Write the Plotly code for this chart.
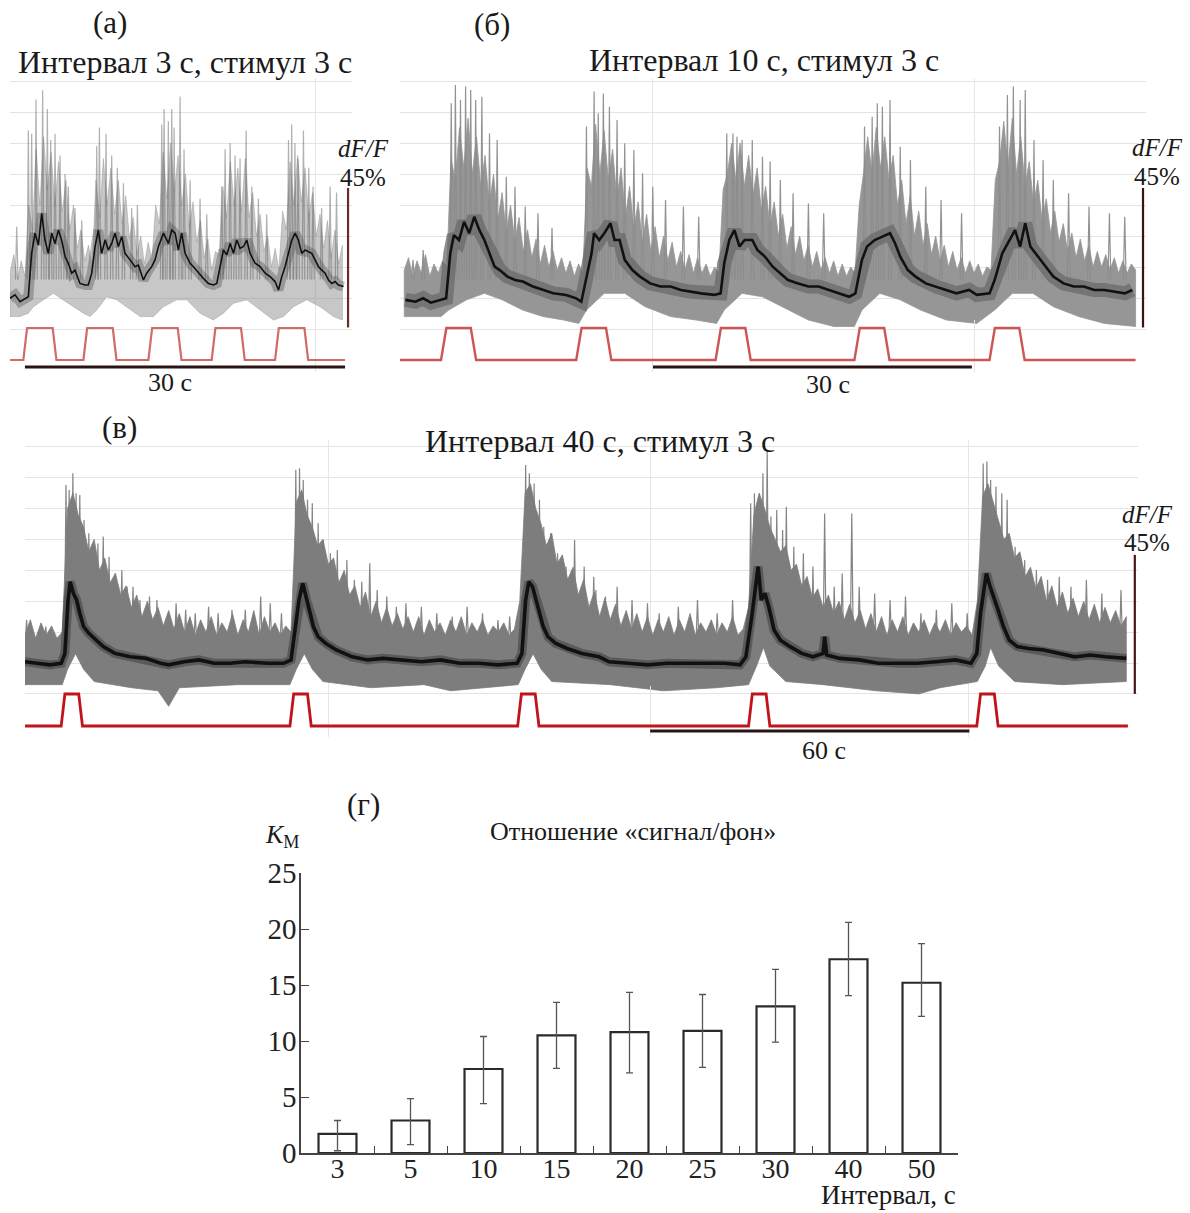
import plotly.graph_objects as go

W, H = 1190, 1213
FONT = "Liberation Serif, Times New Roman, Tinos, DejaVu Serif, serif"

# ================= DATA =================
# ---- panel (а): interval 3 s, stimulus 3 s  (time in s, dF/F in %)
a_mean = [(0, -0.1), (0.47, 1.0), (0.94, -1.2), (1.41, -0.1), (1.72, 0.4), (2.03, 14.4), (2.34, 20.9),
          (2.66, 17.1), (2.97, 27.3), (3.28, 18.7), (3.59, 14.4), (3.91, 20.9), (4.22, 17.6), (4.53, 21.9),
          (4.84, 18.7), (5.16, 13.3), (5.47, 11.2), (5.78, 8.0), (6.09, 9.0), (6.56, 4.7), (7.03, 4.2),
          (7.34, 4.2), (7.66, 8.0), (7.97, 16.6), (8.28, 21.9), (8.59, 14.4), (8.91, 18.7), (9.22, 15.5),
          (9.53, 17.6), (9.84, 20.9), (10.16, 16.6), (10.47, 19.8), (10.78, 14.4), (11.25, 12.3),
          (11.72, 10.1), (12.03, 10.6), (12.5, 5.8), (12.81, 8.0), (13.28, 10.1), (13.59, 12.3),
          (13.91, 16.6), (14.38, 20.9), (14.84, 17.6), (15.16, 21.9), (15.47, 20.9), (15.78, 15.5),
          (16.09, 20.9), (16.41, 14.4), (16.88, 11.2), (17.19, 10.1), (17.66, 8.0), (18.13, 6.3),
          (18.59, 4.7), (19.06, 4.2), (19.38, 4.7), (19.69, 10.1), (20.0, 15.5), (20.31, 13.9),
          (20.63, 17.6), (20.94, 14.4), (21.25, 18.7), (21.56, 16.0), (21.88, 16.6), (22.19, 18.7),
          (22.5, 14.4), (22.97, 11.2), (23.44, 10.1), (23.91, 8.0), (24.38, 6.9), (24.84, 5.3),
          (25.16, 2.6), (25.47, 6.9), (25.78, 10.1), (26.09, 14.4), (26.41, 18.7), (26.72, 20.9),
          (27.03, 18.7), (27.34, 14.4), (27.66, 15.5), (27.97, 14.9), (28.28, 14.4), (28.59, 12.3),
          (28.91, 10.1), (29.22, 9.0), (29.53, 8.0), (29.84, 5.8), (30.16, 4.7), (30.47, 5.3),
          (30.78, 4.2), (31.25, 3.7)]
# upper edge of the gray bundle, sampled every a_hair_dt seconds from a_hair_t0
a_hair_t0, a_hair_dt = 0.0, 0.35
a_hair = [8, 14, 6, 12, 7, 30, 22, 48, 30, 52, 35, 47, 30, 44, 28, 38, 22, 30, 16, 22, 12, 17, 10, 38, 26, 45,
          30, 42, 27, 38, 24, 33, 19, 26, 14, 20, 11, 18, 12, 30, 24, 47, 32, 50, 34, 46, 30, 40, 23, 31, 18,
          25, 13, 19, 9, 15, 14, 36, 26, 44, 30, 42, 28, 45, 26, 34, 20, 27, 15, 20, 10, 16, 9, 28, 22, 44, 30,
          46, 31, 42, 26, 34, 20, 27, 16, 25, 13, 22, 11, 17]
a_lower = [(0, -6.0), (0.94, -6.0), (1.72, -4.9), (2.19, -2.8), (3.13, -0.6), (4.06, 1.5), (5.0, -0.6),
           (5.94, -2.8), (6.88, -4.9), (7.5, -6.0), (8.13, -3.9), (9.06, 0.4), (10.0, -0.6), (10.94, -2.8),
           (12.19, -6.0), (13.44, -6.0), (14.38, -2.8), (15.63, -0.6), (16.56, -0.6), (17.81, -4.9),
           (19.06, -7.1), (20.0, -4.9), (20.94, -1.7), (22.19, -0.6), (23.44, -3.9), (24.69, -7.1),
           (25.63, -6.0), (26.56, -2.8), (27.81, -0.6), (29.06, -2.8), (30.31, -6.0), (31.15, -7.1)]
a_spikes = [(0.63, 23), (1.72, 54), (2.03, 53), (2.44, 64), (3.06, 67), (3.5, 61), (3.81, 51), (4.22, 53),
            (4.69, 46), (5.16, 40), (5.47, 36), (6.09, 29), (6.72, 25), (8.13, 49), (8.38, 55), (9.0, 53),
            (9.53, 46), (10.06, 42), (10.63, 37), (11.4, 29), (11.94, 30), (14.22, 56), (14.44, 61),
            (14.84, 57), (15.16, 61), (15.38, 55), (15.94, 65), (16.31, 48), (16.88, 38), (17.81, 32),
            (18.44, 27), (19.84, 36), (20.16, 48), (20.63, 50), (21.09, 46), (21.56, 45), (22.13, 54),
            (22.66, 36), (23.28, 32), (24.06, 27), (26.1, 51), (26.4, 56), (26.7, 50), (27.0, 45),
            (27.5, 54), (28.0, 42), (28.4, 36), (29.2, 29), (30.0, 36), (30.6, 34)]
a_stim_onsets = [1.25, 6.88, 12.97, 18.9, 24.84]
a_stim_dur = 3.1
a_t_end = 31.4
a_time_bar = (1.4, 30.0)          # start (s), length (s)
a_amp_bar = (31.68, -9.5, 45.0)   # at time (s), start (%), length (%)
a_vgrid = [28.6]

# ---- panel (б): interval 10 s, stimulus 3 s
b_mean = [(0.5, -0.6), (1.46, -1.2), (2.18, -0.1), (2.9, -1.5), (3.86, -0.6), (4.34, -0.1), (4.73, 14.4),
          (5.07, 20.3), (5.55, 18.7), (6.03, 24.6), (6.51, 20.9), (6.99, 26.2), (7.47, 21.9), (7.94, 18.7),
          (8.42, 14.4), (8.9, 10.1), (9.38, 9.0), (10.1, 6.9), (10.82, 5.8), (11.55, 5.3), (12.5, 3.7),
          (13.46, 2.6), (14.42, 1.5), (15.62, 1.0), (16.58, -0.1), (17.06, -1.2), (17.54, 6.9),
          (18.02, 14.4), (18.26, 20.9), (18.74, 18.7), (19.22, 20.9), (19.8, 24.1), (20.18, 18.7),
          (20.66, 18.7), (21.14, 12.3), (21.86, 9.0), (22.58, 6.9), (23.54, 4.7), (24.5, 3.7),
          (25.46, 3.7), (26.42, 2.6), (27.38, 2.0), (28.34, 1.5), (29.54, 1.0), (30.16, 1.5), (30.5, 11.2),
          (30.98, 18.7), (31.46, 21.9), (31.94, 16.6), (32.42, 18.7), (33.14, 18.7), (33.62, 15.5),
          (34.34, 13.3), (35.06, 10.1), (35.78, 8.0), (36.5, 5.8), (37.46, 4.7), (38.42, 3.7),
          (39.38, 3.7), (40.34, 2.6), (41.3, 1.5), (42.26, 0.4), (42.84, 1.5), (43.46, 12.3),
          (43.94, 16.6), (44.66, 18.7), (45.38, 19.8), (46.1, 20.9), (46.58, 17.6), (47.06, 13.3),
          (47.78, 9.0), (48.5, 6.9), (49.46, 4.7), (50.42, 3.7), (51.38, 2.6), (52.34, 1.5), (53.54, 2.6),
          (54.26, 1.0), (55.46, 1.5), (55.94, 5.8), (56.66, 14.4), (57.38, 18.7), (57.86, 21.9),
          (58.34, 16.6), (58.82, 24.1), (59.3, 16.6), (60.02, 13.3), (60.74, 10.1), (61.46, 6.9),
          (62.42, 4.7), (63.38, 3.7), (64.34, 3.7), (65.3, 2.6), (66.26, 2.6), (67.22, 2.0), (68.18, 1.5),
          (68.9, 2.6)]
b_hair_t0, b_hair_dt = 0.4, 0.4
b_hair = [9, 13, 7, 12, 8, 14, 7, 11, 8, 12, 10, 45, 38, 55, 42, 58, 40, 52, 36, 46, 30, 40, 25, 34, 21, 30,
          18, 26, 15, 22, 13, 19, 11, 17, 10, 15, 9, 13, 8, 12, 7, 11, 8, 42, 36, 56, 40, 54, 38, 48, 32, 42,
          26, 36, 22, 31, 18, 27, 15, 23, 13, 20, 12, 18, 10, 15, 9, 14, 8, 13, 8, 11, 7, 10, 8, 35, 40, 50,
          38, 50, 36, 46, 33, 42, 28, 36, 23, 31, 20, 27, 16, 23, 14, 20, 12, 17, 10, 15, 9, 13, 8, 12, 7, 11,
          7, 10, 8, 30, 40, 52, 40, 55, 42, 52, 38, 46, 30, 38, 24, 33, 20, 28, 17, 24, 14, 20, 12, 17, 10, 15,
          9, 13, 8, 12, 8, 11, 7, 10, 9, 38, 44, 57, 42, 58, 40, 52, 36, 44, 30, 38, 25, 32, 21, 28, 18, 24,
          15, 21, 13, 19, 12, 17, 10, 15, 10, 14, 9, 13, 8, 12, 8, 11, 9]
b_lower = [(0.4, -6.0), (3.86, -6.0), (4.58, -3.9), (6.26, -0.6), (7.94, 1.5), (9.62, -0.6), (11.54, -3.9),
           (13.46, -6.0), (15.38, -7.1), (16.82, -8.2), (17.54, -3.9), (19.22, 1.5), (21.14, 1.5),
           (23.06, -2.8), (25.46, -6.0), (27.86, -7.1), (29.78, -8.2), (30.5, -3.9), (32.18, 1.5),
           (34.1, 0.4), (36.02, -2.8), (38.42, -7.1), (40.82, -9.2), (42.74, -9.2), (43.46, -3.9),
           (45.14, 1.5), (47.06, -0.6), (48.98, -3.9), (51.38, -7.1), (54.26, -8.2), (55.94, -3.9),
           (57.62, 1.5), (59.54, 1.5), (61.46, -2.8), (63.86, -6.0), (66.26, -8.2), (69.2, -9.2)]
b_spikes = [(1.22, 12.3), (2.18, 15.5), (4.82, 62.8), (5.21, 68.7), (5.69, 63.9), (6.17, 68.2), (6.65, 67.1),
            (7.12, 63.9), (7.7, 64.9), (8.42, 53.1), (9.14, 51.0), (10.0, 39.1), (10.82, 35.9),
            (11.78, 29.5), (12.98, 27.3), (14.3, 22.6), (17.54, 55.3), (18.26, 66.6), (18.65, 59.6),
            (19.13, 66.0), (19.7, 61.7), (20.42, 57.4), (21.14, 49.9), (22.0, 47.7), (22.82, 40.2),
            (23.78, 35.9), (24.98, 31.6), (26.66, 29.5), (28.1, 26.2), (30.74, 53.1), (31.32, 53.1),
            (31.7, 52.0), (32.18, 51.0), (33.14, 51.0), (34.1, 45.6), (34.82, 44.0), (35.78, 38.1),
            (36.98, 33.8), (38.42, 30.5), (39.86, 27.3), (43.7, 55.3), (44.42, 58.5), (44.9, 62.8),
            (45.38, 61.7), (46.1, 63.9), (47.06, 48.8), (48.02, 44.5), (49.46, 35.9), (50.9, 31.6),
            (52.83, 27.3), (56.4, 55.3), (57.14, 65.5), (57.7, 68.2), (58.34, 63.9), (58.82, 67.1),
            (59.64, 51.0), (60.5, 44.5), (61.46, 38.1), (62.9, 33.8), (64.82, 29.5), (66.74, 27.3),
            (68.18, 26.2)]
b_stim_onsets = [3.86, 16.58, 29.69, 42.75, 55.46]
b_stim_dur = 3.3
b_t_end = 69.2
b_time_bar = (23.8, 30.0)
b_amp_bar = (69.9, -9.5, 45.0)
b_vgrid = [23.8, 54.0]

# ---- panel (в): interval 40 s, stimulus 3 s
c_mean = [(0, 0.4), (2.5, -0.1), (4.7, -0.6), (6.8, -0.1), (7.5, 3.1), (8.1, 20.4), (8.5, 26.3), (9.1, 22.5),
          (9.7, 20.4), (10.3, 16.1), (11.0, 11.8), (12.0, 9.6), (13.3, 7.4), (14.7, 5.3), (16.9, 3.1),
          (19.8, 2.0), (22.7, 1.5), (25.5, -0.1), (27.0, -0.6), (29.9, 0.4), (32.7, 1.0), (35.6, -0.1),
          (38.5, -0.1), (41.4, 0.4), (45.7, -0.1), (48.6, -0.1), (50.0, 1.0), (50.7, 9.6), (51.5, 20.4),
          (52.2, 25.8), (52.9, 20.4), (53.6, 16.1), (54.2, 11.8), (55.1, 8.5), (56.5, 6.4), (58.5, 4.2),
          (61.5, 2.0), (64.4, 1.0), (67.3, 1.5), (70.9, 1.0), (74.5, 0.4), (78.1, 1.0), (81.7, -0.1),
          (85.3, -0.1), (88.9, -0.6), (92.5, -0.1), (93.4, 3.1), (94.1, 20.4), (94.7, 26.3), (95.4, 24.7),
          (96.1, 20.4), (96.8, 16.1), (97.4, 11.8), (98.3, 8.5), (99.7, 6.4), (101.9, 4.7), (104.7, 3.1),
          (107.9, 2.0), (109.8, 0.4), (113.4, -0.1), (117.0, -0.6), (120.7, -0.1), (124.3, -0.1),
          (127.9, -0.1), (131.5, -0.1), (134.4, -0.6), (135.5, 2.0), (136.6, 15.0), (137.8, 31.2),
          (138.4, 20.4), (139.1, 22.5), (139.8, 18.2), (140.8, 10.7), (142.0, 7.4), (143.8, 5.3),
          (146.0, 3.1), (148.1, 2.0), (150.0, 3.1), (150.3, 8.5), (150.7, 2.6), (153.2, 1.5), (156.8, 1.0),
          (160.4, -0.1), (164.0, -0.1), (167.7, -0.1), (171.3, 0.4), (174.9, 1.0), (177.8, -0.1),
          (178.9, 3.1), (179.6, 16.1), (180.7, 29.0), (181.4, 24.7), (182.1, 21.5), (182.9, 17.2),
          (183.9, 11.8), (185.0, 7.4), (186.5, 5.3), (188.6, 4.7), (191.5, 4.2), (194.4, 3.1), (197.3, 2.0),
          (200.2, 2.6), (203.1, 2.0), (207.0, 1.5)]
c_hair_t0, c_hair_dt = 0.0, 1.0
c_hair = [9, 14, 8, 13, 9, 12, 8, 10, 50, 55, 48, 44, 36, 40, 30, 34, 26, 29, 22, 25, 18, 22, 15, 20, 14, 18,
          12, 17, 11, 16, 10, 15, 9, 14, 10, 15, 9, 13, 10, 16, 9, 14, 10, 17, 9, 15, 10, 13, 9, 12, 10, 52,
          56, 48, 44, 38, 40, 32, 34, 26, 30, 22, 25, 18, 23, 15, 20, 13, 18, 12, 16, 11, 15, 10, 15, 9, 14,
          10, 13, 9, 14, 10, 15, 9, 13, 10, 14, 9, 12, 10, 13, 9, 11, 20, 55, 58, 50, 45, 38, 42, 32, 35, 27,
          31, 22, 27, 18, 23, 15, 21, 14, 19, 12, 17, 11, 16, 10, 15, 9, 14, 10, 15, 9, 14, 10, 16, 9, 13, 10,
          14, 9, 13, 10, 15, 9, 11, 18, 48, 55, 50, 44, 40, 36, 38, 30, 32, 25, 28, 21, 24, 18, 22, 16, 20,
          14, 19, 13, 17, 11, 16, 10, 15, 9, 14, 10, 15, 9, 13, 10, 14, 9, 13, 10, 14, 9, 13, 10, 12, 9, 20,
          54, 58, 52, 46, 40, 42, 34, 36, 28, 31, 24, 28, 20, 25, 18, 23, 16, 21, 15, 20, 14, 19, 13, 18, 13,
          17, 12, 15]
c_lower = [(0, -7), (7, -7), (8, -2), (9.5, 3), (11, -2), (13, -6), (20, -8), (25, -9), (27, -14), (29, -8),
           (40, -7), (49.8, -7), (51, -2), (52.5, 3), (54, -2), (56, -6), (65, -8), (75, -7), (80, -9),
           (92.7, -7), (94, -2), (95.5, 3), (97, -2), (99, -6), (110, -7), (120, -9), (130, -8), (136, -7),
           (137.5, -1), (138.8, 5), (140, -1), (143, -6), (150, -7), (160, -9), (168, -10), (172, -8),
           (179, -6), (180.5, -1), (181.5, 5), (183, -1), (186, -6), (195, -7), (207.0, -6)]
c_spikes = [(0.3, 13.9), (2.5, 9.6), (3.9, 11.8), (7.7, 57.6), (8.3, 56.0), (9.0, 61.4), (9.6, 54.9),
            (10.3, 54.4), (11.1, 46.3), (12.0, 42.0), (12.7, 33.3), (13.7, 38.7), (14.7, 40.9), (15.8, 34.4),
            (16.9, 29.0), (18.2, 30.1), (19.2, 24.7), (20.3, 24.7), (21.6, 20.4), (23.4, 21.5), (24.8, 20.4),
            (27.0, 16.1), (28.4, 19.3), (30.2, 17.2), (32.0, 16.1), (34.5, 18.2), (36.3, 16.1), (38.9, 17.2),
            (41.4, 17.2), (44.3, 21.5), (46.1, 19.3), (48.2, 16.1), (50.9, 62.5), (51.6, 63.0), (52.3, 59.2),
            (53.1, 52.8), (54.0, 51.7), (55.1, 45.2), (56.1, 39.8), (57.4, 35.5), (58.7, 36.6), (60.5, 33.3),
            (61.9, 26.9), (63.3, 26.3), (64.8, 32.3), (66.2, 23.6), (68.0, 21.5), (69.8, 18.2), (71.6, 19.3),
            (74.5, 18.2), (77.4, 16.1), (80.3, 15.0), (83.1, 18.2), (86.0, 16.1), (88.9, 13.9), (91.1, 15.0),
            (94.1, 64.1), (94.8, 61.4), (95.7, 58.1), (96.7, 52.8), (97.5, 44.1), (98.8, 42.0),
            (100.1, 35.5), (101.7, 31.2), (103.3, 39.8), (105.1, 31.2), (106.9, 27.9), (107.3, 23.6),
            (109.1, 21.5), (111.3, 24.7), (114.1, 20.4), (117.0, 19.3), (119.2, 16.1), (122.8, 18.2),
            (126.4, 20.4), (130.1, 16.1), (133.0, 20.4), (136.4, 51.7), (137.1, 54.9), (138.0, 52.8),
            (138.7, 61.4), (139.5, 68.4), (140.2, 47.4), (141.3, 49.5), (142.4, 43.0), (143.1, 50.6),
            (144.5, 37.6), (146.3, 35.5), (148.1, 31.2), (150.3, 48.4), (152.1, 24.7), (153.6, 29.0),
            (155.4, 48.4), (156.8, 24.7), (159.7, 22.5), (162.6, 20.4), (165.5, 21.5), (168.4, 16.1),
            (171.3, 17.2), (174.2, 19.3), (177.1, 16.1), (180.1, 64.6), (180.8, 65.2), (181.5, 59.2),
            (182.5, 57.1), (183.6, 54.9), (184.6, 52.8), (186.1, 37.6), (187.9, 33.3), (190.1, 30.1),
            (192.2, 26.9), (194.4, 27.9), (196.6, 24.7), (199.5, 26.9), (202.4, 22.5), (206.0, 23.6)]
c_stim_onsets = [6.8, 49.8, 92.6, 136.0, 178.9]
c_stim_dur = 4.0
c_t_end = 207.3
c_time_bar = (117.5, 60.0)
c_amp_bar = (208.6, -10.0, 45.0)
c_vgrid = [57.0, 117.5, 177.4]

# ---- panel (г): signal-to-background ratio
intervals = ["3", "5", "10", "15", "20", "25", "30", "40", "50"]
km_mean = [1.7, 2.9, 7.5, 10.5, 10.8, 10.9, 13.1, 17.3, 15.2]
km_err_plus = [1.2, 1.95, 2.9, 2.95, 3.55, 3.25, 3.3, 3.3, 3.5]
km_err_minus = [1.5, 2.15, 3.1, 2.95, 3.65, 3.25, 3.2, 3.25, 3.0]


# ================= HELPERS =================
def fx(px):
    return px / W


def fy(py):
    return 1 - py / H


def unzip(pairs):
    return [p[0] for p in pairs], [p[1] for p in pairs]


def band_xy(t0, dt, hair, lower):
    ut = [t0 + i * dt for i in range(len(hair))]
    lt, lv = unzip(lower)
    return ut + lt[::-1] + [ut[0]], list(hair) + lv[::-1] + [hair[0]]


def spikes_xy(spikes, base, hw):
    xs, ys = [], []
    for t, v in spikes:
        xs += [t - hw, t, t + hw, None]
        ys += [base, v, base, None]
    return xs, ys


def stim_xy(onsets, dur, ramp, t_end):
    xs, ys = [0], [0]
    for o in onsets:
        xs += [o, o + ramp, o + dur - ramp, o + dur]
        ys += [0, 1, 1, 0]
    xs.append(t_end)
    ys.append(0)
    return xs, ys


fig = go.Figure()
layout = dict(template="none", width=W, height=H,
              margin=dict(l=0, r=0, t=0, b=0, pad=0, autoexpand=False), autosize=False,
              paper_bgcolor="white", plot_bgcolor="rgba(0,0,0,0)", showlegend=False,
              font=dict(family=FONT, color="#222"))

panels = [
    dict(n=0, mean=a_mean, hair=(a_hair_t0, a_hair_dt, a_hair), lo=a_lower, sp=a_spikes,
         on=a_stim_onsets, dur=a_stim_dur, tend=a_t_end, tbar=a_time_bar, abar=a_amp_bar, vgrid=a_vgrid,
         xdom=(10, 352), xrng=(0, 32.05), ydom=(78, 372), yzero=298, pxpct=3.1,
         sdom=(320, 372), szero=360, band="rgba(130,130,130,0.45)", spk="rgba(100,100,100,0.5)",
         halo="rgba(70,70,70,0.35)", halow=10, mw=1.6, hw=0.12, ramp=0.35,
         red="#d26a6a", redw=2.2, sbar="#6a2a2a"),
    dict(n=1, mean=b_mean, hair=(b_hair_t0, b_hair_dt, b_hair), lo=b_lower, sp=b_spikes,
         on=b_stim_onsets, dur=b_stim_dur, tend=b_t_end, tbar=b_time_bar, abar=b_amp_bar, vgrid=b_vgrid,
         xdom=(400, 1146), xrng=(0, 70.18), ydom=(78, 372), yzero=298, pxpct=3.1,
         sdom=(320, 372), szero=360, band="rgba(150,150,150,1)", spk="rgba(140,140,140,0.95)",
         halo="rgba(105,105,105,0.75)", halow=14, mw=2.6, hw=0.13, ramp=0.5,
         red="#cc5555", redw=2.4, sbar="#3a1414"),
    dict(n=2, mean=c_mean, hair=(c_hair_t0, c_hair_dt, c_hair), lo=c_lower, sp=c_spikes,
         on=c_stim_onsets, dur=c_stim_dur, tend=c_t_end, tbar=c_time_bar, abar=c_amp_bar, vgrid=c_vgrid,
         xdom=(25, 1138), xrng=(0, 209.2), ydom=(440, 737), yzero=663, pxpct=3.09,
         sdom=(686, 737), szero=726, band="rgba(125,125,125,1)", spk="rgba(125,125,125,0.95)",
         halo="rgba(75,75,75,0.7)", halow=9, mw=3.6, hw=0.28, ramp=0.7,
         red="#c0141c", redw=2.8, sbar="#4a1515"),
]

for p in panels:
    n = p["n"]
    xa = "x" if n == 0 else f"x{n + 1}"
    ya_i = 2 * n + 1
    ys_i = 2 * n + 2
    ya = "y" if ya_i == 1 else f"y{ya_i}"
    ys = f"y{ys_i}"
    xkey = "xaxis" if n == 0 else f"xaxis{n + 1}"
    ykey = "yaxis" if ya_i == 1 else f"yaxis{ya_i}"
    skey = f"yaxis{ys_i}"

    ytop, ybot = p["ydom"]
    yr = ((p["yzero"] - ybot) / p["pxpct"], (p["yzero"] - ytop) / p["pxpct"])
    stop, sbot = p["sdom"]
    sr = ((p["szero"] - sbot) / 32.0, (p["szero"] - stop) / 32.0)

    layout[xkey] = dict(domain=[fx(p["xdom"][0]), fx(p["xdom"][1])], range=list(p["xrng"]), anchor=ya,
                        showgrid=True, gridcolor="#e6e6e6", gridwidth=1, tickvals=p["vgrid"],
                        showticklabels=False, ticks="", zeroline=False, showline=False, fixedrange=True,
                        automargin=False)
    layout[ykey] = dict(domain=[fy(ybot), fy(ytop)], range=list(yr), anchor=xa,
                        showgrid=True, gridcolor="#e4e4e4", gridwidth=1,
                        tickvals=[-10, 0, 10, 20, 30, 40, 50, 60, 70],
                        showticklabels=False, ticks="", zeroline=False, showline=False, fixedrange=True,
                        automargin=False)
    layout[skey] = dict(domain=[fy(sbot), fy(stop)], range=list(sr), anchor=xa, visible=False,
                        showgrid=False, zeroline=False, fixedrange=True, automargin=False)

    ht0, hdt, hv = p["hair"]
    bx, by = band_xy(ht0, hdt, hv, p["lo"])
    fig.add_trace(go.Scatter(x=bx, y=by, xaxis=xa, yaxis=ya, mode="lines", fill="toself",
                             fillcolor=p["band"], line=dict(width=0.8, color=p["band"]),
                             hoverinfo="skip"))
    sx, sy = spikes_xy(p["sp"], 6, p["hw"])
    fig.add_trace(go.Scatter(x=sx, y=sy, xaxis=xa, yaxis=ya, mode="lines",
                             line=dict(width=1.2, color=p["spk"]), hoverinfo="skip"))
    mt, mv = unzip(p["mean"])
    fig.add_trace(go.Scatter(x=mt, y=mv, xaxis=xa, yaxis=ya, mode="lines",
                             line=dict(width=p["halow"], color=p["halo"]), hoverinfo="skip"))
    fig.add_trace(go.Scatter(x=mt, y=mv, xaxis=xa, yaxis=ya, mode="lines",
                             line=dict(width=p["mw"], color="#111111"), hoverinfo="skip"))
    at, a0, al = p["abar"]
    fig.add_trace(go.Scatter(x=[at, at], y=[a0, a0 + al], xaxis=xa, yaxis=ya, mode="lines",
                             line=dict(width=2.2, color=p["sbar"]), hoverinfo="skip"))
    stx, sty = stim_xy(p["on"], p["dur"], p["ramp"], p["tend"])
    fig.add_trace(go.Scatter(x=stx, y=sty, xaxis=xa, yaxis=ys, mode="lines",
                             line=dict(width=p["redw"], color=p["red"]), hoverinfo="skip"))
    t0, tl = p["tbar"]
    bar_y = -(7 if n < 2 else 5) / 32.0
    fig.add_trace(go.Scatter(x=[t0, t0 + tl], y=[bar_y, bar_y], xaxis=xa, yaxis=ys, mode="lines",
                             line=dict(width=3.2, color="#2a1414"), hoverinfo="skip"))

# ---- bar chart (г)
fig.add_trace(go.Bar(x=intervals, y=km_mean, xaxis="x4", yaxis="y7", width=0.52,
                     marker=dict(color="white", line=dict(color="#2a2a2a", width=2.2)),
                     error_y=dict(type="data", array=km_err_plus, arrayminus=km_err_minus,
                                  color="#555555", thickness=1.3, width=3.5),
                     hoverinfo="skip"))
layout["xaxis4"] = dict(domain=[fx(301), fx(958)], anchor="y7", type="category", range=[-0.5, 8.5],
                        showline=True, linecolor="#444", linewidth=1.5, ticks="inside",
                        tickson="boundaries", ticklen=7, tickcolor="#444", tickwidth=1.3,
                        tickfont=dict(family=FONT, size=28, color="#222"), showgrid=False,
                        zeroline=False, fixedrange=True, ticklabelstandoff=-10, automargin=False)
layout["yaxis7"] = dict(domain=[fy(1153), fy(873)], anchor="x4", range=[0, 25], tickvals=[0, 5, 10, 15, 20, 25],
                        showline=True, linecolor="#444", linewidth=1.5, ticks="inside", ticklen=8,
                        tickcolor="#444", tickwidth=1.3, tickfont=dict(family=FONT, size=29, color="#222"),
                        showgrid=False, zeroline=False, fixedrange=True, ticklabelstandoff=-3,
                        automargin=False)


def ann(text, px, py, size, xanchor="center", yanchor="middle"):
    return dict(text=text, x=fx(px), y=fy(py), xref="paper", yref="paper", xanchor=xanchor,
                yanchor=yanchor, showarrow=False, font=dict(family=FONT, size=size, color="#1a1a1a"))


annotations = [
    ann("(а)", 110, 23, 31),
    ann("Интервал 3 с, стимул 3 с", 185, 62, 32),
    ann("(б)", 492, 24, 31),
    ann("Интервал 10 с, стимул 3 с", 764, 60, 32),
    ann("(в)", 119, 427, 31),
    ann("Интервал 40 с, стимул 3 с", 600, 441, 32),
    ann("<i>dF/F</i>", 363, 149, 25),
    ann("45%", 363, 177, 25),
    ann("<i>dF/F</i>", 1157, 148, 25),
    ann("45%", 1157, 176, 25),
    ann("<i>dF/F</i>", 1147, 514, 25),
    ann("45%", 1147, 542, 25),
    ann("30 с", 170, 383, 26),
    ann("30 с", 828, 385, 26),
    ann("60 с", 824, 750, 26),
    ann("(г)", 363, 805, 31),
    ann("<i>K</i><sub>М</sub>", 282, 836, 26),
    ann("Отношение «сигнал/фон»", 633, 831, 26),
    ann("Интервал, с", 958, 1195, 27, xanchor="right"),
]
layout["annotations"] = annotations

fig.update_layout(**layout)
fig.write_html("out.html")
